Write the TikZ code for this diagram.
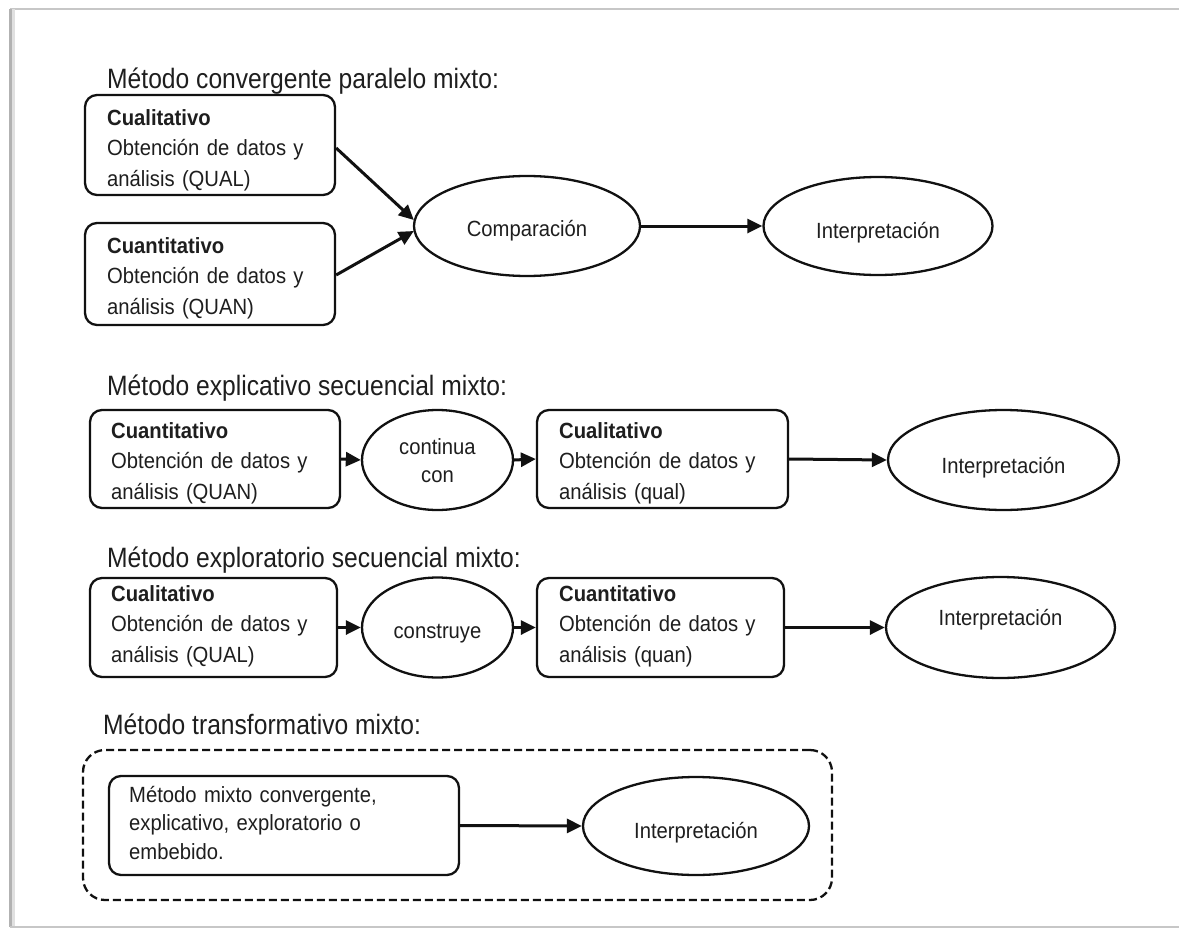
\documentclass[tikz,border=0pt]{standalone}
\usepackage{fontspec}
\setmainfont{Liberation Sans}
\newfontfamily\boxfont{Liberation Sans}[FakeStretch=0.92]
\newfontfamily\titlefont{Liberation Sans}[FakeStretch=0.88]
\usetikzlibrary{arrows.meta,calc,shapes.geometric}
\definecolor{txt}{HTML}{1E1E1E}
\definecolor{ink}{HTML}{111111}
\begin{document}
\begin{tikzpicture}[x=1pt,y=-1pt,
  title/.style={anchor=base west, inner sep=0pt, text=txt, font=\titlefont\fontsize{28}{32}\selectfont},
  btext/.style={anchor=base west, inner sep=0pt, text=txt, align=left, text width=300pt, font=\boxfont\fontsize{22}{30.5}\selectfont},
  databox/.style={draw=ink, line width=2.3pt, rounded corners=12pt, inner sep=0pt},
  oval/.style={draw=ink, ellipse, line width=2.3pt, inner sep=0pt, align=center, text=txt, font=\boxfont\fontsize{22}{30}\selectfont},
  dashbox/.style={draw=ink, line width=2.3pt, rounded corners=22pt, dash pattern=on 8pt off 4pt, inner sep=0pt},
  arr/.style={draw=ink, line width=3pt, -{Triangle[length=15pt,width=14pt]}},
  frameline/.style={draw=black!22, line width=1.5pt}
]
\useasboundingbox (0,0) rectangle (1179,937);
\fill[white] (0,0) rectangle (1179,937);
% page frame
\coordinate (ftl) at (10,9);
\coordinate (ftr) at (1179,9);
\coordinate (fbl) at (10,927);
\coordinate (fbr) at (1179,927);
\draw[frameline] (ftr) -- (ftl);
\draw[draw=black!30, line width=3pt] (ftl) -- (fbl);
\draw[draw=black!12, line width=3pt] ($(ftl)+(3,0)$) -- ($(fbl)+(3,0)$);
\draw[frameline] (fbl) -- (fbr);

% ---------- Row 1 ----------
\node[title] (T1) at (107,88) {Método convergente paralelo mixto:};
\node[databox, minimum width=250pt, minimum height=100pt] (A1) at (210,145) {};
\node[btext] (A1t) at (107,125) {\textbf{Cualitativo}\\Obtención de datos y\\análisis (QUAL)};
\node[databox, minimum width=250pt, minimum height=102pt] (A2) at (210,274) {};
\node[btext] (A2t) at (107,253) {\textbf{Cuantitativo}\\Obtención de datos y\\análisis (QUAN)};
\node[oval, minimum width=226pt, minimum height=100pt] (Comp) at (527,226) {\raisebox{-5pt}[\height][\depth]{Comparación}};
\node[oval, minimum width=229pt, minimum height=98pt] (I1) at (878,226) {\raisebox{-7pt}[\height][\depth]{Interpretación}};
\draw[arr] ($(A1.east)+(0,3)$) -- ($(Comp.west)+(1,-6)$);
\draw[arr] ($(A2.east)+(0,1)$) -- ($(Comp.west)+(1,5)$);
\draw[arr] (Comp.east) -- (I1.west);

% ---------- Row 2 ----------
\node[title] (T2) at (107,395) {Método explicativo secuencial mixto:};
\node[databox, minimum width=250pt, minimum height=98pt] (B1) at (215,459) {};
\node[btext] (B1t) at (111,438) {\textbf{Cuantitativo}\\Obtención de datos y\\análisis (QUAN)};
\node[oval, minimum width=151pt, minimum height=100pt] (Cont) at (437.5,460) {\raisebox{-2pt}[\height][\depth]{continua}\\con};
\node[databox, minimum width=251pt, minimum height=98pt] (B2) at (662.5,459) {};
\node[btext] (B2t) at (559,438) {\textbf{Cualitativo}\\Obtención de datos y\\análisis (qual)};
\node[oval, minimum width=231pt, minimum height=100pt] (I2) at (1003.5,460) {\raisebox{-8pt}[\height][\depth]{Interpretación}};
\draw[arr] (B1.east) -- (Cont.west);
\draw[arr] (Cont.east) -- (B2.west);
\draw[arr] (B2.east) -- (I2.west);

% ---------- Row 3 ----------
\node[title] (T3) at (107,567) {Método exploratorio secuencial mixto:};
\node[databox, minimum width=247pt, minimum height=99pt] (C1) at (213.5,627.5) {};
\node[btext] (C1t) at (111,601) {\textbf{Cualitativo}\\Obtención de datos y\\análisis (QUAL)};
\node[oval, minimum width=151pt, minimum height=100pt] (Cons) at (437.5,627.5) {\raisebox{-6pt}[\height][\depth]{construye}};
\node[databox, minimum width=247pt, minimum height=99pt] (C2) at (660.5,627.5) {};
\node[btext] (C2t) at (559,601) {\textbf{Cuantitativo}\\Obtención de datos y\\análisis (quan)};
\node[oval, minimum width=229pt, minimum height=101pt] (I3) at (1000.5,627.5) {\raisebox{8pt}[\height][\depth]{Interpretación}};
\draw[arr] (C1.east) -- (Cons.west);
\draw[arr] (Cons.east) -- (C2.west);
\draw[arr] (C2.east) -- (I3.west);

% ---------- Row 4 ----------
\node[title] (T4) at (103,734) {Método transformativo mixto:};
\node[dashbox, minimum width=749pt, minimum height=150pt] (Dbox) at (457.5,825) {};
\node[databox, minimum width=350pt, minimum height=99pt] (D1) at (284,825.5) {};
\node[btext, font=\boxfont\fontsize{22}{28.5}\selectfont] (D1t) at (129,802) {Método mixto convergente,\\explicativo, exploratorio o\\embebido.};
\node[oval, minimum width=226pt, minimum height=98pt] (I4) at (696,826) {\raisebox{-7pt}[\height][\depth]{Interpretación}};
\draw[arr] (D1.east) -- (I4.west);
\end{tikzpicture}
\end{document}
